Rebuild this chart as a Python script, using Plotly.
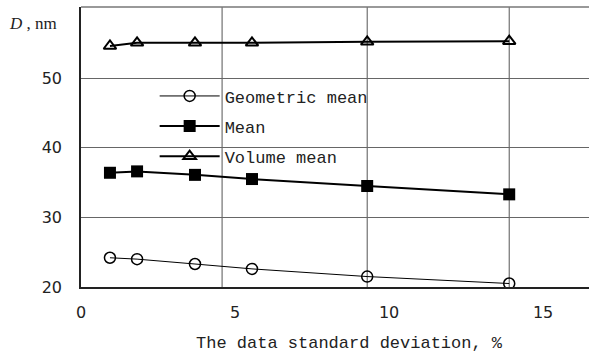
import plotly.graph_objects as go

x_vals = [0.94, 1.82, 3.70, 5.55, 9.29, 13.9]
geometric_mean = [24.2, 24.0, 23.3, 22.6, 21.5, 20.5]
mean_vals = [36.4, 36.6, 36.1, 35.5, 34.5, 33.3]
volume_mean = [54.6, 55.05, 55.05, 55.05, 55.2, 55.3]
series_names = ["Geometric mean", "Mean", "Volume mean"]
x_ticks = [0, 5, 10, 15]
y_ticks = [20, 30, 40, 50]
v_grid = [4.58, 9.29, 13.9]

fig = go.Figure()
fig.add_trace(go.Scatter(
    x=x_vals, y=geometric_mean, name=series_names[0], mode="lines+markers",
    legendgroup="a",
    line=dict(color="black", width=1),
    marker=dict(symbol="circle-open", size=11, color="black", line=dict(width=1.5)),
))
fig.add_trace(go.Scatter(
    x=x_vals, y=mean_vals, name=series_names[1], mode="lines+markers",
    legendgroup="b",
    line=dict(color="black", width=2),
    marker=dict(symbol="square", size=12, color="black"),
))
fig.add_trace(go.Scatter(
    x=x_vals, y=volume_mean, name=series_names[2], mode="lines+markers",
    legendgroup="c",
    line=dict(color="black", width=2),
    marker=dict(symbol="triangle-up-open", size=11, color="black", line=dict(width=2)),
))

for gx in v_grid:
    fig.add_shape(type="line", xref="x", yref="paper", x0=gx, x1=gx, y0=0, y1=1,
                  line=dict(color="#555555", width=1), layer="below")
fig.add_shape(type="line", xref="paper", yref="paper", x0=0, x1=1, y0=1, y1=1,
              line=dict(color="#777777", width=1.5), layer="below")

fig.add_annotation(text="<i>D</i> , nm", xref="paper", yref="paper", x=-0.145, y=0.94,
                   xanchor="left", yanchor="middle", showarrow=False,
                   font=dict(family="Liberation Serif", size=17, color="#222"))
fig.add_annotation(text="The data standard deviation, %", xref="paper", yref="paper",
                   x=0.528, y=-0.2, xanchor="center", yanchor="middle", showarrow=False,
                   font=dict(family="Liberation Mono", size=17, color="#222"))

fig.update_layout(
    width=589, height=352,
    margin=dict(l=81, r=0, t=7, b=65),
    paper_bgcolor="white", plot_bgcolor="white",
    showlegend=True,
    legend=dict(x=0.145, y=0.745, xanchor="left", yanchor="top",
                bgcolor="rgba(0,0,0,0)", tracegroupgap=5,
                font=dict(family="Liberation Mono", size=17, color="#222"),
                itemwidth=60),
    xaxis=dict(range=[0, 16.49], tickvals=x_ticks, showgrid=False, zeroline=False,
               showline=True, linecolor="#222", linewidth=1.5, ticks="",
               ticklabelstandoff=10,
               tickfont=dict(family="DejaVu Sans", size=16, color="#222")),
    yaxis=dict(range=[20, 60.2], tickvals=y_ticks, showgrid=True, gridcolor="#666666",
               gridwidth=1, zeroline=False, showline=True, linecolor="#222", linewidth=1.5,
               ticks="", ticklabelstandoff=14,
               tickfont=dict(family="DejaVu Sans", size=16, color="#222")),
)

fig.write_html("out.html", config={"displayModeBar": False},
               post_script="document.body.style.margin='0';")
